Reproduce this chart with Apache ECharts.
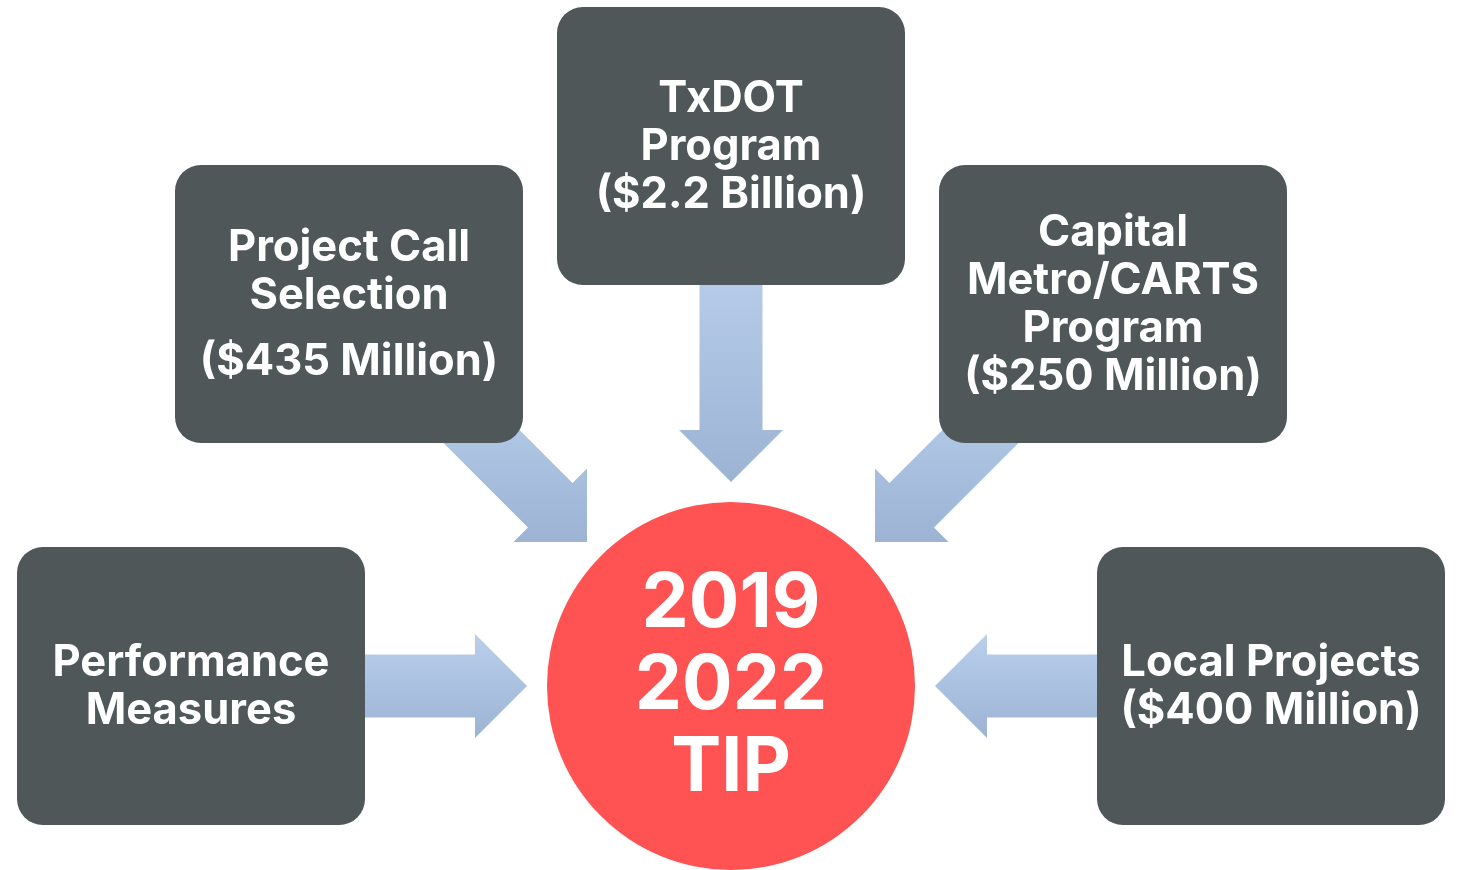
<!DOCTYPE html>
<html><head><meta charset="utf-8">
<script src="https://cdn.jsdelivr.net/npm/echarts@6/dist/echarts.min.js"></script>
<style>html,body{margin:0;padding:0;background:#fff}#c{width:1458px;height:870px}</style>
</head><body><div id="c"></div>
<script>
// ---- content ----
const sourceNames = ['Project Call\nSelection', 'TxDOT\nProgram', 'Capital\nMetro/CARTS\nProgram', 'Performance\nMeasures', 'Local Projects'];
const sourceFunding = ['($435 Million)', '($2.2 Billion)', '($250 Million)', '', '($400 Million)'];
const centerLabel = ['2019', '2022', 'TIP'];

// ---- layout (frame units, 1458 x 870) ----
const boxCenters = [[349, 304], [731, 146], [1113, 304], [191, 686], [1271, 686]];
const arrowTips = [[587, 542], [731, 482], [875, 542], [527, 686], [935, 686]];
const arrowTails = [[440, 395], [731, 250], [1022, 395], [300, 686], [1160, 686]];
const fundingGap = [18, 0, 0, 0, 0];
const hubCenter = [731, 686];

// ---- styles ----
const BOX_W = 348, BOX_H = 278, BOX_R = 26;
const BOX_COLOR = '#4F5758';
const HUB_COLOR = '#FF5252';
const HUB_R = 184;
const FONT = 'Inter';
const FONT_SIZE = 43.5;
const LINE_H = 48;

const chart = echarts.init(document.getElementById('c'), null, {renderer: 'canvas'});

function arrowItem(params, api) {
  const i = params.dataIndex;
  const tip = api.coord(arrowTips[i]);
  const tail = api.coord(arrowTails[i]);
  const dx = tip[0] - tail[0], dy = tip[1] - tail[1];
  const L = Math.hypot(dx, dy);
  const ux = dx / L, uy = dy / L, px = -uy, py = ux;
  const sw = 31.5, hw = 52, hl = 52;
  const bx = tip[0] - ux * hl, by = tip[1] - uy * hl;
  const pts = [
    [tail[0] + px * sw, tail[1] + py * sw],
    [bx + px * sw, by + py * sw],
    [bx + px * hw, by + py * hw],
    tip,
    [bx - px * hw, by - py * hw],
    [bx - px * sw, by - py * sw],
    [tail[0] - px * sw, tail[1] - py * sw]
  ];
  return {
    type: 'polygon',
    shape: {points: pts},
    style: {
      fill: new echarts.graphic.LinearGradient(0, 0, 0, 1, [
        {offset: 0, color: '#B9CFEC'},
        {offset: 1, color: '#9CB3D4'}
      ])
    }
  };
}

function boxItem(params, api) {
  const i = params.dataIndex;
  const c = api.coord(boxCenters[i]);
  const nameLines = sourceNames[i].split('\n').length;
  const hasFund = sourceFunding[i] !== '';
  const total = (nameLines + (hasFund ? 1 : 0)) * LINE_H + fundingGap[i];
  const top = c[1] - total / 2 + 1;
  const children = [
    {type: 'rect', shape: {x: c[0] - BOX_W / 2, y: c[1] - BOX_H / 2, width: BOX_W, height: BOX_H, r: BOX_R},
     style: {fill: BOX_COLOR}},
    {type: 'text', style: {text: sourceNames[i], x: c[0], y: top, fill: '#fff', fontFamily: FONT, fontWeight: 'bold',
      fontSize: FONT_SIZE, align: 'center', verticalAlign: 'top', lineHeight: LINE_H}}
  ];
  if (hasFund) {
    children.push({type: 'text', style: {text: sourceFunding[i], x: c[0], y: top + nameLines * LINE_H + fundingGap[i],
      fill: '#fff', fontFamily: FONT, fontWeight: 'bold', fontSize: FONT_SIZE, align: 'center', verticalAlign: 'top', lineHeight: LINE_H}});
  }
  return {type: 'group', children};
}

function hubItem(params, api) {
  const c = api.coord(hubCenter);
  const r = api.size([HUB_R, 0])[0];
  return {type: 'group', children: [
    {type: 'circle', shape: {cx: c[0], cy: c[1], r}, style: {fill: HUB_COLOR}},
    {type: 'text', style: {text: centerLabel.join('\n'), x: c[0], y: c[1], fill: '#fff', fontFamily: FONT,
      fontWeight: 'bold', fontSize: 75, align: 'center', verticalAlign: 'middle', lineHeight: 82}}
  ]};
}

chart.setOption({
  animation: false,
  backgroundColor: '#fff',
  grid: {left: 0, right: 0, top: 0, bottom: 0},
  xAxis: {type: 'value', min: 0, max: 1458, show: false},
  yAxis: {type: 'value', min: 0, max: 870, inverse: true, show: false},
  series: [
    {type: 'custom', name: 'arrows', renderItem: arrowItem, data: sourceNames.map((n, i) => [i, 0]), z: 1, silent: true},
    {type: 'custom', name: 'sources', renderItem: boxItem, data: sourceNames.map((n, i) => [i, 0]), z: 2, silent: true},
    {type: 'custom', name: 'tip', renderItem: hubItem, data: [[0, 0]], z: 3, silent: true}
  ]
});
</script>
</body></html>
